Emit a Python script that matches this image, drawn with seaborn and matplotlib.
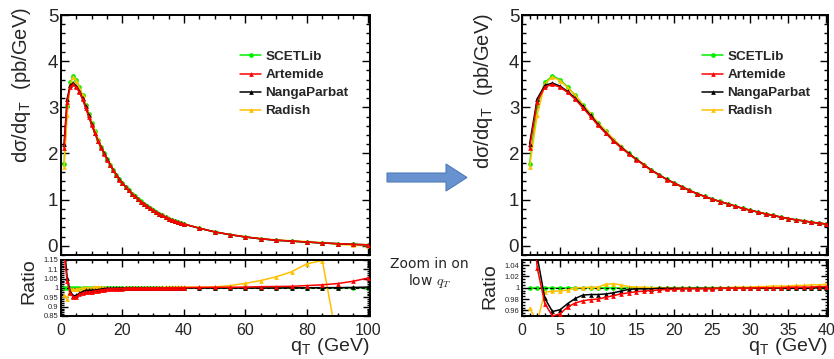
import numpy as np
import pandas as pd
import matplotlib
matplotlib.use("Agg")
import matplotlib.pyplot as plt
from matplotlib.lines import Line2D
from matplotlib.patches import Polygon
from matplotlib.ticker import MultipleLocator, FormatStrFormatter
from matplotlib import font_manager
import seaborn as sns

# ---------------------------------------------------------------- data
qt = list(range(1, 41)) + list(range(45, 101, 5))

# SCETLib spectrum dsigma/dqT in pb/GeV (reference prediction)
scetlib = [1.78, 3.02, 3.54, 3.68, 3.60, 3.44, 3.26, 3.06, 2.86, 2.66,
           2.48, 2.30, 2.15, 2.01, 1.88, 1.76, 1.64, 1.54, 1.44, 1.36,
           1.28, 1.20, 1.13, 1.07, 1.01, 0.96, 0.91, 0.86, 0.81, 0.77,
           0.73, 0.69, 0.66, 0.62, 0.59, 0.56, 0.54, 0.51, 0.49, 0.47,
           0.38, 0.30, 0.24, 0.19, 0.15, 0.12, 0.10, 0.08, 0.06, 0.045,
           0.03, 0.02]

# ratios of each prediction to SCETLib
ratio_artemide = [1.19, 1.035, 0.972, 0.950, 0.954, 0.966, 0.973, 0.977, 0.979, 0.980,
                  0.983, 0.986, 0.989, 0.991, 0.993, 0.994, 0.995, 0.996, 0.997, 0.997,
                  0.998, 0.998, 0.998, 0.998, 0.998, 0.999, 0.999, 0.999, 0.999, 0.999,
                  1.000, 1.000, 1.000, 1.000, 1.001, 1.001, 1.001, 1.001, 1.002, 1.002,
                  1.003, 1.004, 1.004, 1.005, 1.007, 1.008, 1.009, 1.013, 1.017, 1.024,
                  1.036, 1.054]
ratio_nangaparbat = [1.24, 1.055, 0.981, 0.958, 0.961, 0.972, 0.981, 0.987, 0.988, 0.988,
                     0.989, 0.991, 0.994, 0.997, 0.998, 0.998, 0.998, 0.999, 0.999, 0.999,
                     0.999, 0.999, 0.999, 0.999, 0.999, 0.999, 0.999, 0.999, 0.999, 0.999,
                     0.999, 0.999, 0.999, 0.999, 0.999, 0.999, 0.999, 1.000, 1.000, 1.000,
                     1.000, 1.000, 1.000, 1.000, 1.000, 1.000, 1.001, 1.001, 1.002, 1.002,
                     1.003, 1.005]
ratio_radish = [0.964, 0.940, 0.992, 0.994, 0.994, 0.996, 1.000, 1.000, 1.001, 1.001,
                1.006, 1.007, 1.005, 1.002, 1.001, 1.001, 1.000, 1.000, 1.000, 1.000,
                1.000, 1.000, 0.999, 1.000, 1.000, 1.000, 1.000, 1.001, 1.001, 1.001,
                1.002, 1.002, 1.003, 1.003, 1.003, 1.004, 1.004, 1.005, 1.005, 1.006,
                1.004, 1.006, 1.013, 1.025, 1.040, 1.060, 1.087, 1.130, 1.147, 0.700,
                0.400, 0.100]

models = ["SCETLib", "Artemide", "NangaParbat", "Radish"]
ratios = {"SCETLib": [1.0] * len(qt), "Artemide": ratio_artemide,
          "NangaParbat": ratio_nangaparbat, "Radish": ratio_radish}
colors = {"SCETLib": "#00ee00", "Artemide": "#ff0000",
          "NangaParbat": "#000000", "Radish": "#ffc000"}
markers = {"SCETLib": "o", "Artemide": "^", "NangaParbat": "^", "Radish": "^"}
zorders = {"SCETLib": 2.0, "Radish": 2.2, "NangaParbat": 2.4, "Artemide": 2.6}

rows = []
for m in models:
    for q, s, r in zip(qt, scetlib, ratios[m]):
        rows.append({"qT": q, "model": m, "xsec": s * r, "ratio": r})
df = pd.DataFrame(rows)

# ---------------------------------------------------------------- style
sns.set_theme(style="ticks")
plt.rcParams["font.family"] = ["Liberation Sans", "DejaVu Sans"]
plt.rcParams["mathtext.fontset"] = "cm"
plt.rcParams["axes.linewidth"] = 1.4

installed = {f.name for f in font_manager.fontManager.ttflist}
narrow = "Liberation Sans Narrow" if "Liberation Sans Narrow" in installed else "Liberation Sans"

W, H = 834, 359
fig = plt.figure(figsize=(W / 100, H / 100), dpi=100)


def fr(x0, y0, x1, y1):
    return [x0 / W, 1 - y1 / H, (x1 - x0) / W, (y1 - y0) / H]


panels = [
    dict(x0=61, x1=370, xmax=100.5, xmaj=20, xmin=5, rlim=(0.85, 1.15),
         rmaj=0.05, rmin=0.01, ylab_x=-0.091, ylab_y=1.033, rlab_y=1.036,
         leg_x=0.579),
    dict(x0=522, x1=828, xmax=40.2, xmaj=5, xmin=1, rlim=(0.95, 1.049),
         rmaj=0.02, rmin=0.005, ylab_x=-0.088, ylab_y=1.008, rlab_y=0.946,
         leg_x=0.588),
]

for p in panels:
    ax = fig.add_axes(fr(p["x0"], 15, p["x1"], 255))
    axr = fig.add_axes(fr(p["x0"], 260, p["x1"], 316))

    for m in ["SCETLib", "Radish", "NangaParbat", "Artemide"]:
        sub = df[df["model"] == m]
        sns.lineplot(data=sub, x="qT", y="xsec", ax=ax, color=colors[m],
                     marker=markers[m], markersize=3.4, markeredgewidth=0,
                     lw=1.1, legend=False, errorbar=None, zorder=zorders[m])
        sns.lineplot(data=sub, x="qT", y="ratio", ax=axr, color=colors[m],
                     marker=markers[m], markersize=3.4, markeredgewidth=0,
                     lw=1.1, legend=False, errorbar=None, zorder=zorders[m])
        if m == "SCETLib":
            axr.axhline(1.0, color="black", ls=(0, (3, 2)), lw=0.8, zorder=2.1)

    ax.set_xlim(0, p["xmax"])
    axr.set_xlim(0, p["xmax"])
    ax.set_ylim(-0.2, 5.0)
    axr.set_ylim(*p["rlim"])

    xt = np.arange(0, p["xmax"], p["xmaj"])
    for a in (ax, axr):
        a.set_xticks(xt, labels=[f"{v:g}" for v in xt], fontsize=11.5,
                     fontfamily=narrow)
        a.xaxis.set_minor_locator(MultipleLocator(p["xmin"]))
        a.tick_params(which="both", direction="in", top=True, right=True,
                      color="black", width=1.0)
        a.grid(False)
        for s in a.spines.values():
            s.set_color("black")

    ax.yaxis.set_major_locator(MultipleLocator(1))
    ax.yaxis.set_minor_locator(MultipleLocator(0.2))
    ax.tick_params(which="major", length=6)
    ax.tick_params(which="minor", length=3)
    ax.tick_params(axis="y", labelsize=13.5, pad=2)
    ax.tick_params(axis="x", labelbottom=False)
    ax.set_xlabel("")

    axr.yaxis.set_major_locator(MultipleLocator(p["rmaj"]))
    axr.yaxis.set_minor_locator(MultipleLocator(p["rmin"]))
    axr.yaxis.set_major_formatter(FormatStrFormatter("%g"))
    axr.tick_params(which="major", length=5)
    axr.tick_params(which="minor", length=2.5)
    axr.tick_params(axis="y", labelsize=5.5, pad=2)
    axr.tick_params(axis="x", pad=5)

    ax.set_ylabel("dσ/dq$_\\mathregular{T}$  (pb/GeV)", fontsize=14.5,
                  loc="top")
    ax.yaxis.set_label_coords(p["ylab_x"], p["ylab_y"])
    axr.set_ylabel("Ratio", fontsize=14, loc="top")
    axr.yaxis.set_label_coords(-0.078, p["rlab_y"])
    axr.set_xlabel("q$_\\mathregular{T}$ (GeV)", fontsize=14, loc="right")
    axr.xaxis.set_label_coords(1.0, -0.365)

    handles = [Line2D([], [], color=colors[m], marker=markers[m],
                      markersize=3.4, markeredgewidth=0, lw=1.1) for m in models]
    ax.legend(handles, models, loc="upper left",
              bbox_to_anchor=(p["leg_x"], 0.851), frameon=False,
              prop={"weight": "bold", "size": 9.7}, handlelength=1.6,
              handletextpad=0.3, labelspacing=0.42, borderpad=0,
              borderaxespad=0)

# arrow between the panels
pts = [(387, 173), (446, 173), (446, 164), (467, 177.5), (446, 191),
       (446, 182), (387, 182)]
arrow = Polygon([(x / W, 1 - y / H) for x, y in pts], closed=True,
                transform=fig.transFigure, facecolor="#6792cf",
                edgecolor="#4f7bb9", lw=0.8)
fig.patches.append(arrow)
fig.text(429 / W, 1 - 264 / H, "Zoom in on", ha="center", va="center",
         fontsize=10, family="DejaVu Sans")
fig.text(430 / W, 1 - 281 / H, r"low $q_T$", ha="center", va="center",
         fontsize=10, family="DejaVu Sans")

fig.savefig("out.png", dpi=100)
